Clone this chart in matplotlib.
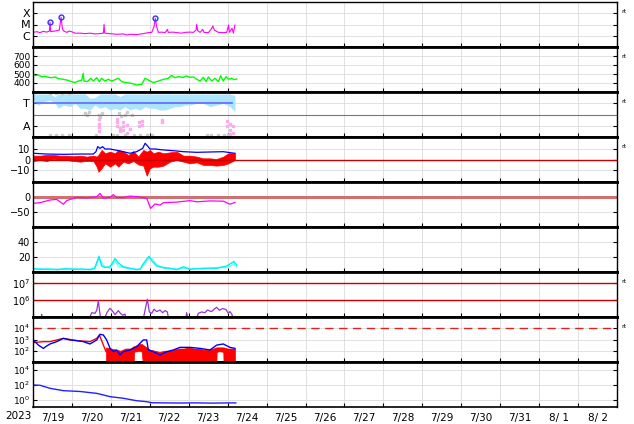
import numpy as np
import matplotlib
matplotlib.use("Agg")
import matplotlib.pyplot as plt

# time axis: hours from 2023-07-19 00:00
day_labels = ['7/19', '7/20', '7/21', '7/22', '7/23', '7/24', '7/25', '7/26',
              '7/27', '7/28', '7/29', '7/30', '7/31', '8/ 1', '8/ 2']

# X-ray flux (W/m2)
xray_t = [0.2, 2.3, 4.3, 6.4, 8.4, 10.1, 10.5, 10.9, 12.5, 14.6, 16.2, 17.3, 18.1, 18.7,
          20.8, 22.4, 23.8, 25.9, 29.0, 32.1, 35.1, 38.2, 41.3, 43.4, 43.8, 44.2, 47.5,
          51.6, 55.7, 57.8, 59.8, 63.9, 68.0, 71.1, 73.2, 74.6, 75.4, 76.2, 77.3, 79.3,
          81.4, 82.4, 82.8, 83.4, 86.5, 88.6, 91.7, 93.7, 96.8, 98.9, 100.5, 100.9, 101.5,
          103.0, 104.6, 105.4, 108.1, 110.2, 110.8, 111.8, 114.3, 117.3, 119.4, 120.6,
          121.0, 122.7, 123.5, 124.5]
xray_f = [2.0e-6, 2.3e-6, 1.9e-6, 2.5e-6, 2.1e-6, 2.6e-6, 1.55e-5, 2.3e-6, 2.5e-6, 2.8e-6,
          3.2e-6, 4.4e-5, 4.6e-6, 2.8e-6, 2.0e-6, 2.6e-6, 2.3e-6, 1.7e-6, 1.7e-6, 1.55e-6,
          1.7e-6, 1.45e-6, 1.55e-6, 1.7e-6, 1.02e-5, 1.7e-6, 1.55e-6, 1.35e-6, 1.45e-6,
          1.17e-6, 1.35e-6, 1.26e-6, 1.55e-6, 1.9e-6, 2.0e-6, 6.5e-6, 3.5e-5, 6.5e-6, 2.0e-6,
          2.1e-6, 1.9e-6, 2.8e-6, 3.7e-6, 2.0e-6, 2.1e-6, 1.9e-6, 1.7e-6, 2.0e-6, 2.1e-6,
          2.0e-6, 3.2e-6, 1.02e-5, 2.8e-6, 2.0e-6, 3.7e-6, 2.0e-6, 1.9e-6, 4.6e-6, 7.4e-6,
          3.2e-6, 2.0e-6, 1.9e-6, 2.0e-6, 9.1e-6, 2.0e-6, 4.6e-6, 1.7e-6, 9.1e-6]
flare_t = [10.5, 17.3, 75.4]
flare_f = [1.55e-5, 4.4e-5, 3.5e-5]

# solar wind speed (km/s)
wind_t = [0.0, 0.2, 1.2, 3.3, 5.3, 7.4, 9.5, 11.5, 13.6, 15.6, 17.7, 20.8, 23.8, 25.9,
          28.0, 30.0, 31.0, 31.4, 33.5, 35.6, 37.2, 39.3, 40.9, 42.3, 44.4, 46.4, 48.5,
          50.6, 52.6, 54.7, 57.8, 60.8, 63.9, 67.0, 69.1, 71.1, 74.2, 77.3, 80.4, 83.4,
          85.5, 87.5, 89.6, 92.7, 94.7, 96.8, 98.9, 100.9, 103.0, 105.0, 106.7, 108.1,
          110.2, 112.2, 114.3, 115.7, 117.3, 119.0, 120.6, 122.5, 123.9, 125.6]
wind_v = [533, 496, 481, 489, 470, 475, 463, 459, 467, 448, 444, 433, 415, 404, 422, 430,
          507, 422, 415, 452, 422, 459, 415, 452, 422, 441, 422, 437, 452, 415, 404, 396,
          378, 385, 452, 433, 404, 422, 441, 452, 485, 459, 470, 463, 478, 463, 467, 441,
          422, 463, 415, 467, 422, 452, 415, 481, 422, 470, 441, 452, 437, 444]

# IMF sector (T = 3, A = 1)
sect_t = [0.2, 3.3, 6.4, 10.5, 13.6, 15.6, 18.7, 22.8, 25.9, 29.0, 32.1, 35.1, 38.2, 41.3,
          44.4, 47.5, 50.6, 53.6, 56.7, 59.8, 62.9, 66.0, 69.1, 72.1, 75.2, 78.3, 81.4,
          84.5, 87.5, 90.6, 93.7, 96.8, 100.9, 105.0, 109.1, 113.2, 117.3, 121.4, 124.5]
sect_lo = [3.29, 2.84, 3.14, 3.29, 2.99, 2.55, 2.84, 2.70, 2.99, 2.55, 2.55, 2.40, 2.84,
           2.55, 2.70, 2.40, 2.55, 2.40, 2.70, 2.40, 2.55, 2.40, 2.70, 2.55, 2.55, 2.40,
           2.40, 2.55, 2.70, 2.70, 2.84, 2.84, 2.99, 2.99, 2.70, 2.84, 2.99, 2.70, 2.25]
sect_hi = [3.82, 3.82, 3.82, 3.82, 3.58, 3.82, 3.82, 3.82, 3.82, 3.82, 3.82, 3.45, 3.50,
           3.82, 3.82, 3.82, 3.82, 3.60, 3.82, 3.82, 3.82, 3.82, 3.82, 3.82, 3.82, 3.82,
           3.82, 3.82, 3.82, 3.82, 3.82, 3.82, 3.82, 3.82, 3.82, 3.82, 3.82, 3.82, 3.70]
away_t = [40.7, 40.7, 40.7, 40.7, 52.0, 52.0, 52.0, 53.6, 53.6, 55.7, 55.7, 55.7, 58.2,
          58.2, 59.8, 65.3, 65.3, 67.4, 67.4, 79.7, 79.7, 119.8, 119.8, 121.4, 121.4,
          121.4, 123.5, 123.5]
away_v = [1.6, 1.2, 0.9, 0.5, 1.6, 1.3, 1.0, 0.8, 0.5, 1.3, 1.0, 0.6, 1.1, 0.4, 0.7, 1.3,
          1.0, 1.4, 1.1, 1.5, 1.3, 1.4, 1.0, 1.2, 0.6, 0.3, 1.0, 0.4]
gray_t = [32.1, 33.5, 34.5, 40.5, 41.5, 42.5, 53.0, 54.5, 56.5, 58.0, 61.0, 10.5, 14.0,
          18.0, 22.0, 39.0, 49.5, 52.0, 57.0, 62.0, 66.0, 70.0, 73.5, 107.0, 110.0, 114.0,
          118.0, 120.0, 10.5, 14.0, 18.0, 22.0]
gray_v = [2.1, 2.0, 2.2, 2.0, 1.8, 2.1, 2.1, 1.9, 2.0, 2.2, 2.0, 0.2, 0.2, 0.2, 0.2, 0.2,
          0.2, 0.2, 0.2, 0.2, 0.2, 0.2, 0.2, 0.2, 0.2, 0.2, 0.2, 0.2, 3.95, 3.95, 3.95, 3.95]

# IMF Bt / Bz (nT)
bt_t = [0.2, 8.4, 18.7, 29.0, 37.2, 38.8, 39.9, 41.3, 42.9, 44.4, 47.5, 51.6, 55.7, 59.8,
        63.9, 67.6, 69.1, 70.5, 72.1, 75.2, 80.4, 86.5, 92.7, 100.9, 109.1, 117.3, 121.4,
        124.5]
bt_v = [5.8, 5.1, 4.8, 5.1, 5.1, 7.3, 12.0, 10.4, 12.0, 9.8, 9.8, 8.6, 7.3, 5.8, 7.3,
        10.4, 15.1, 12.9, 9.8, 9.8, 8.9, 8.2, 7.3, 6.7, 7.0, 7.3, 6.4, 5.8]
bz_t = [0.2, 4.3, 8.4, 12.5, 16.6, 20.8, 24.9, 29.0, 33.1, 37.2, 39.3, 40.3, 42.3, 44.4,
        47.5, 50.6, 52.6, 55.7, 58.8, 61.9, 64.9, 68.0, 70.1, 72.1, 74.2, 77.3, 80.4,
        84.5, 88.6, 92.7, 96.8, 100.9, 105.0, 109.1, 113.2, 117.3, 120.4, 122.5, 124.5]
bz_lo = [-1.4, -0.5, -1.4, 0.5, -0.5, -0.5, -1.4, -2.0, -1.4, -1.4, -6.7, -11.4, -8.2,
         -3.6, -6.7, -3.6, -6.7, -2.0, -3.6, -1.4, -4.6, -5.7, -15.1, -8.2, -6.7, -6.7,
         -5.7, -2.0, -0.5, -2.0, -3.6, -2.6, -5.1, -5.1, -5.7, -5.1, -3.6, -2.0, -0.5]
bz_hi = [3.6, 3.6, 4.2, 4.2, 3.6, 3.6, 3.0, 3.6, 2.7, 3.6, 2.7, 4.2, 8.9, 5.8, 7.3, 5.8,
         8.9, 7.3, 4.2, 7.9, 2.7, 8.9, 7.3, 8.9, 5.8, 7.3, 5.8, 6.7, 7.3, 3.6, 3.6, 2.7,
         1.1, 1.1, 0.5, 2.7, 5.8, 5.8, 5.8]

# Dst (nT)
dst_t = [0.2, 4.3, 10.5, 14.6, 18.7, 20.8, 26.9, 33.1, 39.3, 41.3, 43.4, 47.5, 49.5, 51.6,
         55.7, 59.8, 63.9, 70.1, 72.5, 75.2, 78.3, 80.4, 88.6, 96.8, 100.9, 109.1, 117.3,
         121.4, 124.5]
dst_v = [-21, -19, -10, -8, -24, -12, -1, -3, 1, 12, -4, -1, 8, -2, -2, 3, 1, -4, -38, -23,
         -27, -19, -17, -12, -16, -13, -14, -24, -18]

# cyan pair
cy_t = [0.2, 5.0, 10.0, 15.0, 20.0, 25.0, 30.0, 35.0, 38.0, 40.7, 42.3, 44.4, 47.5, 50.6,
        52.6, 55.7, 59.8, 63.9, 66.0, 68.0, 71.5, 73.2, 76.2, 80.4, 84.5, 88.6, 92.7, 96.8,
        105.0, 113.2, 119.4, 123.9, 125.6]
cy_a = [4.5, 3.5, 4.0, 3.0, 4.5, 3.5, 4.0, 3.0, 5.0, 21.0, 8.0, 6.0, 7.0, 18.0, 12.0, 7.0,
        5.0, 3.0, 4.0, 11.0, 21.0, 15.0, 8.0, 6.0, 5.0, 3.0, 7.0, 3.6, 5.0, 5.0, 8.0, 14.0, 9.0]
cy_b = [3.5, 4.5, 3.0, 4.0, 3.5, 4.5, 3.0, 4.0, 4.0, 18.0, 12.0, 7.0, 5.0, 15.0, 8.0, 6.0,
        4.0, 4.0, 3.0, 9.0, 18.0, 18.0, 10.0, 5.0, 4.0, 4.0, 5.0, 4.5, 4.0, 6.0, 6.0, 10.0, 6.0]

# electron flux (purple)
el_t = [0.0, 5.0, 5.3, 5.6, 34.7, 36.2, 38.2, 39.3, 40.3, 41.1, 41.7, 44.4, 45.8, 47.5,
        49.1, 50.6, 52.6, 54.0, 55.3, 56.7, 57.3, 68.0, 69.1, 70.5, 71.7, 73.2, 74.6,
        76.2, 78.3, 79.9, 81.4, 82.8, 83.6, 94.3, 94.7, 95.6, 100.9, 101.9, 104.0, 106.0,
        107.5, 110.1, 111.6, 113.2, 114.9, 116.9, 119.0, 120.4, 121.4, 122.5, 123.5]
el_f = [3e4, 3e4, 1.45e5, 3e4, 8e4, 1.8e5, 1.66e5, 2.5e5, 9.5e5, 2.0e5, 8e4, 1.0e5, 2.0e5,
        3.3e5, 2.2e5, 1.4e5, 2.4e5, 1.6e5, 1.26e5, 1.5e5, 8e4, 8e4, 2.6e5, 1.15e6, 2.0e5,
        1.66e5, 2.9e5, 2.1e5, 2.6e5, 1.8e5, 2.4e5, 2.0e5, 8e4, 8e4, 1.8e5, 8e4, 8e4, 1.66e5,
        2.0e5, 1.8e5, 2.6e5, 2.1e5, 2.9e5, 3.8e5, 2.5e5, 3.2e5, 2.8e5, 1.66e5, 2.1e5,
        1.5e5, 8e4]
el_levels = [1e6, 1e7]

# panel 8: blue and red fluxes
p8b_t = [0.0, 0.2, 3.3, 6.4, 8.4, 10.5, 14.6, 18.7, 22.8, 26.9, 31.0, 35.1, 39.3, 41.3,
         43.4, 45.4, 47.5, 49.5, 51.6, 53.6, 55.7, 59.8, 63.9, 68.0, 70.1, 71.1, 74.2,
         78.3, 82.4, 86.5, 90.6, 96.8, 103.0, 109.1, 113.2, 117.3, 121.4, 124.5]
p8b_f = [1260, 910, 320, 162, 263, 400, 645, 1260, 910, 795, 645, 400, 910, 2900, 2500,
         910, 162, 83, 117, 42, 83, 117, 230, 910, 910, 117, 83, 42, 83, 117, 200, 200, 162,
         117, 316, 400, 200, 162]
p8r_t = [0.2, 6.4, 10.5, 18.7, 26.9, 35.1, 39.3, 40.9, 43.4, 45.0]
p8r_f = [525, 645, 645, 1260, 795, 645, 1260, 2500, 320, 83]
p8r_bt = [45.0, 48.0, 51.0, 54.0, 57.0, 60.0, 62.0, 62.3, 64.0, 66.0, 67.0, 68.0, 70.0,
          72.0, 75.0, 78.0, 81.0, 84.0, 87.0, 90.0, 93.0, 96.0, 99.0, 102.0, 105.0, 108.0,
          111.0, 113.0, 113.2, 115.0, 117.3, 117.5, 120.0, 123.0, 124.5]
p8r_lo = [3, 3, 3, 3, 3, 3, 3, 80, 90, 100, 80, 3, 3, 3, 3, 3, 3, 3, 3, 3, 3, 3, 3, 3, 3,
          3, 3, 3, 80, 90, 80, 3, 3, 3, 3]
p8r_hi = [200, 158, 126, 100, 158, 158, 250, 250, 316, 400, 400, 316, 200, 126, 100, 79,
          100, 100, 126, 158, 158, 200, 158, 158, 126, 126, 158, 200, 200, 200, 200, 200,
          158, 158, 158]
p8_level = 1e4

# panel 9
p9_t = [0.2, 4.3, 10.5, 18.7, 29.0, 39.3, 47.5, 55.7, 63.9, 70.1, 73.2, 80.4, 90.0, 100.0,
        110.0, 120.0, 125.0]
p9_f = [85, 79, 31, 15, 11.7, 6.6, 2.4, 1.45, 0.69, 0.51, 0.37, 0.355, 0.34, 0.355, 0.33,
        0.35, 0.355]

fig, axs = plt.subplots(9, 1, figsize=(6.34, 4.24), dpi=100, sharex=True)
fig.subplots_adjust(left=33 / 634, right=617 / 634, top=1 - 2 / 424, bottom=1 - 407 / 424,
                    hspace=0)

grid_c = '#dcdcdc'
noon = np.arange(12, 360, 24)
for ax in axs:
    ax.set_xlim(0, 360)
    ax.set_xticks(np.arange(0, 361, 24))
    ax.tick_params(axis='y', which='both', direction='in', left=True, right=True,
                   length=3, labelsize=7, pad=2)
    ax.tick_params(axis='x', which='major', direction='in', bottom=True, top=False,
                   length=3, labelbottom=False)
    for s in ['left', 'right']:
        ax.spines[s].set_linewidth(1.0)
    for s in ['top', 'bottom']:
        ax.spines[s].set_linewidth(2.0)
axs[0].spines['top'].set_linewidth(1.0)
axs[-1].spines['bottom'].set_linewidth(1.2)

# 1 X-ray
ax = axs[0]
ax.set_yscale('log')
ax.set_ylim(1e-7, 1e-3)
ax.plot(xray_t, xray_f, color='#ff00ff', lw=0.8)
ax.plot(flare_t, flare_f, 'o', mfc='none', mec='#3333ff', ms=3.5, mew=1)
ax.set_yticks([1e-6, 1e-5, 1e-4])
ax.set_yticklabels(['C', 'M', 'X'], fontsize=8)

# 2 wind speed
ax = axs[1]
ax.set_ylim(300, 800)
ax.plot(wind_t, wind_v, color='#00ff00', lw=1.0)
ax.set_yticks([400, 500, 600, 700])
ax.tick_params(axis='y', labelsize=6.5)

# 3 sector
ax = axs[2]
ax.set_ylim(0, 4)
ax.fill_between(sect_t, sect_lo, sect_hi, color='#aae4ff', lw=0)
ax.plot(away_t, away_v, 's', color='#ffaaee', ms=1.6)
ax.plot(gray_t, gray_v, 's', color='#cccccc', ms=1.6)
ax.plot([0.2, 122.5], [3, 3], color='#6666ff', lw=1.2)
ax.axhline(2, color='#777777', lw=0.8)
ax.set_yticks([1, 3])
ax.set_yticklabels(['A', 'T'], fontsize=8)

# 4 IMF
ax = axs[3]
ax.set_ylim(-21, 21)
ax.fill_between(bz_t, bz_lo, bz_hi, color='#ff0000', lw=0.5)
ax.plot(bt_t, bt_v, color='#0000ff', lw=0.9)
ax.axhline(0, color='#cc0000', lw=1.0)
ax.set_yticks([-10, 0, 10])
ax.set_yticklabels(['\u221210', '0', '10'])

# 5 Dst
ax = axs[4]
ax.set_ylim(-100, 50)
ax.axhline(0, color='#d07070', lw=2.2)
ax.plot(dst_t, dst_v, color='#ff00ff', lw=0.9)
ax.set_yticks([-50, 0])
ax.set_yticklabels(['\u221250', '0'])

# 6 cyan
ax = axs[5]
ax.set_ylim(0, 60)
ax.plot(cy_t, cy_b, color='#66ffff', lw=1.0)
ax.plot(cy_t, cy_a, color='#00f0f0', lw=1.0)
ax.set_yticks([20, 40])

# 7 electrons
ax = axs[6]
ax.set_yscale('log')
ax.set_ylim(1e5, 4.8e7)
for lev in el_levels:
    ax.axhline(lev, color='#cc0000', lw=1.0)
ax.plot(el_t, el_f, color='#9933cc', lw=0.9)
ax.set_yticks(el_levels)
ax.set_yticklabels(['$10^{6}$', '$10^{7}$'])

# 8
ax = axs[7]
ax.set_yscale('log')
ax.set_ylim(1e1, 1e5)
ax.axhline(p8_level, color='#dd2222', lw=1.0, ls=(0, (6, 4)))
ax.fill_between(p8r_bt, p8r_lo, p8r_hi, color='#ff0000', lw=0.5)
ax.plot(p8r_t, p8r_f, color='#ff0000', lw=1.0)
ax.plot(p8b_t, p8b_f, color='#0000ff', lw=1.0)
ax.set_yticks([1e2, 1e3, 1e4])
ax.set_yticklabels(['$10^{2}$', '$10^{3}$', '$10^{4}$'], fontsize=6.5)

# 9
ax = axs[8]
ax.set_yscale('log')
ax.set_ylim(1e-1, 1e5)
ax.plot(p9_t, p9_f, color='#2222ff', lw=1.0)
ax.set_yticks([1e0, 1e2, 1e4])
ax.set_yticklabels(['$10^{0}$', '$10^{2}$', '$10^{4}$'], fontsize=6.5)

for ax in axs:
    ax.yaxis.set_minor_locator(matplotlib.ticker.NullLocator())
    ax.set_xticks(noon, minor=True)
    ax.tick_params(axis='x', which='minor', length=0, labelbottom=False)
    ax.grid(True, which='major', color=grid_c, lw=0.6)
    ax.set_axisbelow(True)

axs[-1].set_xticklabels(day_labels, minor=True)
axs[-1].tick_params(axis='x', which='minor', labelbottom=True, labelsize=7.5, pad=4)
fig.text(18 / 634, 1 - 416 / 424, '2023', ha='center', va='center', fontsize=7.5)

for k in [0, 1, 2, 3, 6, 7]:
    axs[k].text(1.008, 0.78, 'rt', transform=axs[k].transAxes, fontsize=4.5,
                ha='left', va='center')

fig.savefig('out.png', dpi=100)
